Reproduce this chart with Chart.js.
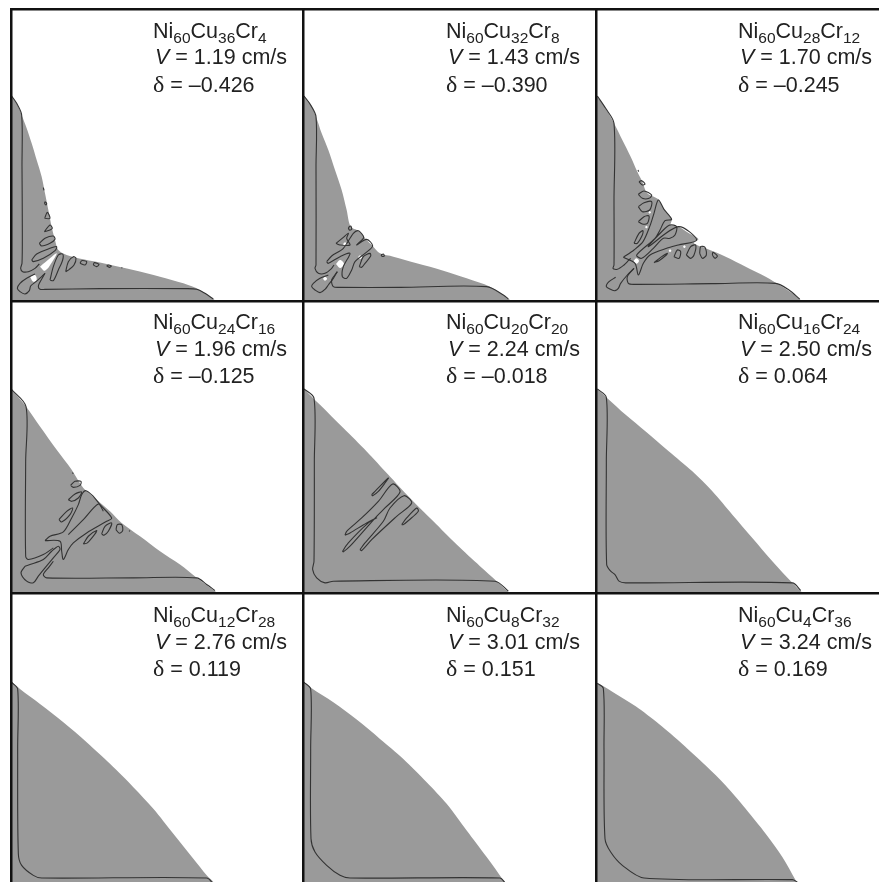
<!DOCTYPE html>
<html>
<head>
<meta charset="utf-8">
<title>Ni-Cu-Cr solidification panels</title>
<script src="https://cdn.jsdelivr.net/npm/chart.js@4"></script>
<style>
  html, body { margin: 0; padding: 0; background: #fff; overflow: hidden; }
  #page { position: relative; width: 879px; height: 882px; overflow: hidden; }
  canvas { position: absolute; }
  .label {
    position: absolute;
    font-family: "Liberation Sans", Arial, sans-serif;
    font-size: 21.5px;
    line-height: 26.5px;
    color: #222;
    white-space: nowrap;
  }
  .label sub { font-size: 15.5px; line-height: 0; vertical-align: -5px; }
  .label i { margin-left: 2px; }
  .label .greek { font-family: "Liberation Serif", serif; font-size: 24px; }
</style>
</head>
<body>
<div id="page"></div>
<script>
// panel texts
const cuValues = [36, 32, 28, 24, 20, 16, 12, 8, 4];
const crValues = [4, 8, 12, 16, 20, 24, 28, 32, 36];
const speeds = ["1.19", "1.43", "1.70", "1.96", "2.24", "2.50", "2.76", "3.01", "3.24"];
const deltas = ["–0.426", "–0.390", "–0.245", "–0.125", "–0.018", "0.064", "0.119", "0.151", "0.169"];

// gray region of each panel on a 3x grid
const outline1 = [[33,285],[50,310],[65,345],[80,385],[95,430],[110,480],[125,530],[135,580],[145,630],[155,680],[165,720],[175,750],[200,765],[250,778],[320,792],[400,810],[480,830],[550,850],[600,870],[640,897],[650,910],[33,910],[33,285]];
const outline2 = [[10,285],[30,310],[48,350],[65,400],[85,450],[105,510],[125,570],[140,630],[152,680],[175,692],[190,708],[200,720],[218,738],[240,760],[280,770],[350,790],[430,812],[500,835],[570,860],[610,885],[630,900],[640,910],[10,910],[10,285]];
const outline3 = [[52,285],[80,325],[105,370],[130,420],[155,470],[175,515],[190,545],[205,580],[238,598],[255,628],[278,658],[275,675],[300,680],[330,700],[358,717],[345,730],[380,745],[440,770],[500,800],[560,830],[610,860],[640,880],[665,900],[675,910],[52,910],[52,285]];
const outline4 = [[33,282],[78,335],[120,395],[170,465],[215,525],[250,580],[290,615],[330,650],[365,685],[420,725],[480,770],[540,810],[590,850],[645,890],[660,900],[33,900],[33,282]];
const outline5 = [[10,280],[60,330],[130,400],[200,470],[265,540],[330,610],[400,680],[470,750],[540,815],[590,860],[625,892],[640,900],[10,900],[10,280]];
const outline6 = [[52,280],[85,310],[140,360],[200,410],[270,470],[340,530],[400,590],[460,660],[520,730],[580,800],[640,865],[665,890],[680,900],[52,900],[52,280]];
const outline7 = [[33,297],[60,320],[120,365],[190,420],[260,480],[330,545],[400,615],[460,680],[520,755],[580,830],[620,880],[640,905],[33,905],[33,297]];
const outline8 = [[10,297],[35,318],[100,360],[170,412],[240,470],[310,530],[380,600],[440,665],[500,745],[560,825],[610,895],[615,905],[10,905],[10,297]];
const outline9 = [[52,300],[100,328],[170,372],[240,425],[310,485],[380,550],[440,610],[500,680],[560,755],[610,825],[650,895],[655,905],[52,905],[52,300]];

// thin dark curves of each panel
const contours1 = [
  [[35,288],[50,310],[65,345],[66,500],[67,700],[66,790],[62,805],[68,815],[85,815],[105,805],[118,792]],
  [[105,822],[80,835],[60,850],[52,865],[60,875],[75,882],[88,872],[92,858],[108,845],[125,830],[135,820]],
  [[135,820],[118,850],[115,860],[120,868],[135,868],[300,866],[560,866],[590,868],[615,880],[640,897]],
  [[130,563],[132,571]],
  [[135,605],[140,610],[138,615],[134,610],[135,605]],
  [[135,652],[142,637],[150,655],[135,655],[135,652]],
  [[133,695],[150,675],[157,685],[150,690],[133,695]],
  [[118,730],[135,715],[160,708],[165,718],[150,730],[125,738],[118,730]],
  [[95,780],[110,762],[150,745],[170,740],[165,752],[130,775],[100,785],[95,780]],
  [[150,840],[160,800],[175,765],[188,762],[188,780],[175,810],[160,842],[150,840]],
  [[197,815],[205,785],[220,770],[228,775],[222,795],[208,808],[197,815]],
  [[240,790],[245,782],[260,785],[255,795],[240,790]],
  [[280,795],[283,788],[297,793],[290,800],[280,795]],
  [[320,797],[325,795],[334,798],[328,802],[320,797]],
  [[364,803],[367,804]]
];
const contours2 = [
  [[12,288],[30,312],[48,350],[48,500],[48,795],[45,805],[55,820],[75,820],[95,805],[102,795]],
  [[85,825],[60,835],[40,850],[35,860],[45,870],[60,878],[75,868],[85,855],[100,835],[112,815]],
  [[112,815],[95,840],[100,860],[120,862],[300,862],[560,860],[610,885],[625,897]],
  [[80,785],[95,768],[130,745],[160,700],[175,692],[190,708],[190,715],[170,735],[200,718],[218,738],[195,760],[165,785],[155,810],[140,835],[127,830],[130,800],[150,760],[120,770],[85,790],[80,785]],
  [[108,730],[130,712],[145,700],[140,715],[150,735],[120,735],[108,730]],
  [[178,800],[190,770],[210,760],[212,768],[195,790],[185,802],[178,800]],
  [[145,683],[152,678],[155,688],[148,690],[145,683]],
  [[243,765],[250,762],[253,768],[246,769],[243,765]]
];
const contours3 = [
  [[55,288],[80,325],[105,370],[105,600],[105,795],[102,805],[115,808],[135,795],[148,782],[155,775]],
  [[110,832],[90,845],[82,860],[95,868],[108,872],[118,865],[125,850],[145,825],[165,805]],
  [[165,805],[145,830],[148,850],[165,853],[400,851],[590,850],[630,870],[662,897]],
  [[133,772],[165,750],[192,725],[212,680],[225,640],[238,600],[255,628],[278,658],[258,662],[243,690],[228,715],[173,765],[188,775],[223,745],[253,715],[273,715],[288,705],[293,680],[273,675],[253,690],[208,740],[298,680],[353,720],[298,735],[263,745],[213,765],[193,790],[178,825],[168,790],[133,772]],
  [[177,510],[179,515]],
  [[180,545],[188,542],[198,552],[190,555],[180,545]],
  [[178,583],[195,573],[218,585],[210,595],[190,595],[178,583]],
  [[178,620],[195,608],[218,605],[212,630],[190,635],[178,620]],
  [[178,665],[195,650],[210,648],[205,670],[190,672],[178,665]],
  [[165,730],[180,700],[192,692],[190,705],[175,730],[165,730]],
  [[225,788],[245,772],[265,760],[262,765],[240,782],[225,788]],
  [[285,770],[295,750],[305,755],[300,775],[285,770]],
  [[322,765],[335,740],[350,735],[345,765],[335,775],[322,765]],
  [[362,760],[365,740],[378,742],[382,765],[370,775],[362,760]],
  [[400,765],[402,757],[415,768],[408,775],[400,765]]
];
const contours4 = [
  [[35,284],[78,335],[77,500],[77,785],[85,795],[130,780],[160,760]],
  [[75,815],[63,835],[80,860],[100,865],[115,845],[135,820],[160,790],[180,765],[175,755],[155,770],[130,795],[90,810],[75,815]],
  [[160,800],[145,820],[130,840],[140,850],[400,850],[590,850],[620,870],[645,888]],
  [[135,738],[150,725],[190,712],[215,670],[235,630],[245,600],[258,588],[280,605],[300,630],[335,670],[320,680],[260,715],[220,745],[205,765],[190,795],[185,770],[180,740],[135,738]],
  [[205,720],[250,675],[295,628],[310,650]],
  [[212,572],[225,560],[243,560],[240,572],[220,578],[212,572]],
  [[205,615],[225,598],[245,592],[235,610],[215,620],[205,615]],
  [[177,675],[200,650],[218,640],[210,660],[185,682],[177,675]],
  [[250,748],[265,725],[290,708],[285,718],[262,745],[250,748]],
  [[305,718],[315,695],[335,685],[325,710],[312,722],[305,718]],
  [[348,705],[352,690],[365,690],[368,708],[358,716],[348,705]],
  [[387,708],[390,710]],
  [[217,534],[220,537]]
];
const contours5 = [
  [[12,282],[42,310],[43,500],[42,800],[38,825],[50,850],[75,865],[100,860],[585,860],[625,890]],
  [[215,600],[225,590],[265,550],[255,565],[235,590],[218,603],[215,600]],
  [[135,722],[140,710],[185,670],[235,620],[278,568],[300,592],[255,640],[230,665],[150,755],[130,772],[128,770],[145,745],[205,685],[230,670],[200,685],[150,715],[135,722]],
  [[180,765],[195,745],[250,680],[270,640],[312,603],[335,625],[290,665],[215,735],[185,768],[180,765]],
  [[305,690],[320,670],[350,640],[355,650],[325,678],[310,690],[305,690]]
];
const contours6 = [
  [[55,282],[82,308],[82,500],[83,810],[95,830],[108,840],[120,860],[140,865],[640,865],[665,888]]
];
const contours7 = [
  [[35,300],[53,320],[53,500],[55,815],[65,850],[100,880],[125,888],[620,888],[640,905]]
];
const contours8 = [
  [[12,300],[32,320],[32,500],[33,770],[45,810],[80,850],[120,880],[150,888],[600,888],[615,902]]
];
const contours9 = [
  [[55,303],[73,318],[75,500],[78,770],[95,810],[130,850],[195,888],[640,893],[655,900]]
];

// white gaps inside the gray region
const holes1 = [
  [[120,800],[150,775],[170,760],[160,780],[135,812],[120,800]],
  [[90,830],[105,825],[110,840],[100,845],[90,830]]
];
const holes2 = [
  [[129,733],[135,727],[141,733],[135,739],[129,733]],
  [[108,792],[120,780],[132,792],[120,804],[108,792]],
  [[69,836],[75,830],[81,836],[75,842],[69,836]],
  [[174,772],[180,766],[186,772],[180,778],[174,772]]
];
const holes3 = [
  [[164,783],[172,775],[180,783],[172,791],[164,783]],
  [[208,637],[212,633],[216,637],[212,641],[208,637]],
  [[198,681],[202,677],[206,681],[202,685],[198,681]],
  [[269,752],[273,748],[277,752],[273,756],[269,752]],
  [[312,740],[316,736],[320,740],[316,744],[312,740]]
];

const outlines = [outline1, outline2, outline3, outline4, outline5, outline6, outline7, outline8, outline9];
const contours = [contours1, contours2, contours3, contours4, contours5, contours6, contours7, contours8, contours9];
const holes = [holes1, holes2, holes3, [], [], [], [], [], []];

// page layout
const colLeft = [11, 303, 596, 880];
const rowTop = [9, 301, 592.5, 882];
const gridX = [0, 300, 579];
const gridY = [0, 295, 582];
const labelLeft = [153, 446, 738];
const labelTop = [17.5, 309, 602];
const pad = 2;

const GRAY = "#9a9a9a";
const page = document.getElementById("page");

function toPoints(list) {
    return list.map(p => ({x: p[0], y: p[1]}));
}

function hiddenAxis(min, max, position, reverse) {
    return {
        type: "linear",
        position: position,
        min: min,
        max: max,
        reverse: reverse,
        ticks: {display: false},
        grid: {display: false, drawTicks: false},
        border: {display: true, color: "#111", width: 2.5, z: 2},
        afterFit: axis => {
            if (position === "left") axis.width = 0;
            else axis.height = 0;
        }
    };
}

function drawPanel(i) {
    const col = i % 3;
    const row = Math.floor(i / 3);
    const w = colLeft[col + 1] - colLeft[col];
    const h = rowTop[row + 1] - rowTop[row];

    const canvas = document.createElement("canvas");
    canvas.width = w + pad;
    canvas.height = h + pad;
    canvas.style.left = (colLeft[col] - pad) + "px";
    canvas.style.top = (rowTop[row] - pad) + "px";
    page.appendChild(canvas);

    const datasets = [];
    contours[i].forEach(c => {
        datasets.push({data: toPoints(c), showLine: true, fill: false, borderColor: "#333", borderWidth: 1.1, tension: 0.3, pointRadius: 0, order: 1});
    });
    holes[i].forEach(c => {
        datasets.push({data: toPoints(c), showLine: true, fill: "shape", backgroundColor: "#fff", borderWidth: 0, tension: 0.4, pointRadius: 0, order: 2});
    });
    datasets.push({data: toPoints(outlines[i]), showLine: true, fill: "shape", backgroundColor: GRAY, borderWidth: 0, tension: 0.3, pointRadius: 0, order: 3});

    new Chart(canvas, {
        type: "scatter",
        data: {datasets: datasets},
        options: {
            responsive: false,
            animation: false,
            devicePixelRatio: 1,
            layout: {padding: {left: pad, top: pad, right: 0, bottom: 0}},
            plugins: {legend: {display: false}, tooltip: {enabled: false}},
            scales: {
                x: hiddenAxis((colLeft[col] - gridX[col]) * 3, (colLeft[col + 1] - gridX[col]) * 3, "top", false),
                y: hiddenAxis((rowTop[row] - gridY[row]) * 3, (rowTop[row + 1] - gridY[row]) * 3, "left", true)
            }
        }
    });

    const label = document.createElement("div");
    label.className = "label";
    label.style.left = labelLeft[col] + "px";
    label.style.top = labelTop[row] + "px";
    label.innerHTML = `Ni<sub>60</sub>Cu<sub>${cuValues[i]}</sub>Cr<sub>${crValues[i]}</sub><br>` +
        `<i>V</i> = ${speeds[i]} cm/s<br>` +
        `<span class="greek">δ</span> = ${deltas[i]}`;
    page.appendChild(label);
}

outlines.forEach((o, i) => drawPanel(i));
</script>
</body>
</html>
